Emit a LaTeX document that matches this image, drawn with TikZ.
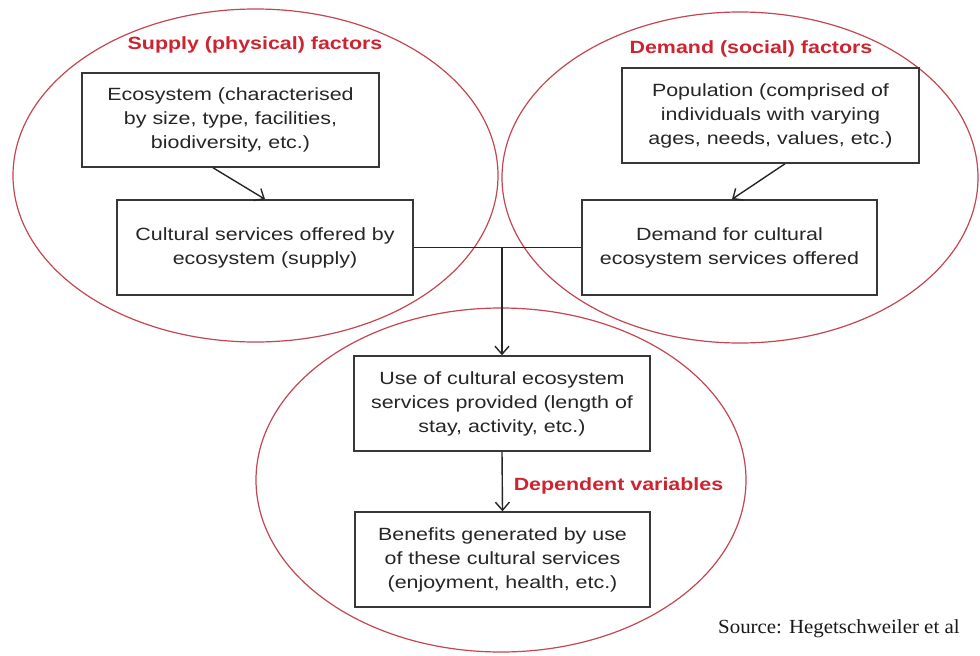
\documentclass[tikz,border=0pt]{standalone}
\usepackage{fontspec}
\usetikzlibrary{arrows.meta}
\newfontfamily\bodyfont{Liberation Sans}[FakeStretch=1.21]
\newfontfamily\labelfont{Liberation Sans}[FakeStretch=1.21]
\newfontfamily\srcfont{Liberation Serif}[FakeStretch=1.045]
\definecolor{ellred}{RGB}{196,70,82}
\definecolor{txtred}{RGB}{205,36,48}
\definecolor{boxline}{RGB}{55,55,55}
\tikzset{
  boxnode/.style={draw=boxline, line width=1.5pt, fill=white, minimum width=296pt, minimum height=95pt, inner sep=0pt, align=center, text=black!85, font=\bodyfont\fontsize{17.7}{24}\selectfont},
  redlabel/.style={anchor=base, inner sep=0pt, text=txtred, font=\labelfont\bfseries\fontsize{17.7}{24}\selectfont},
  ellipseline/.style={draw=ellred, line width=1.2pt},
  conn/.style={draw=black!85, line width=1.4pt},
  arr/.style={conn, -{Straight Barb[length=8pt,width=14pt,line width=1.4pt]}}
}
\begin{document}
\begin{tikzpicture}[x=1pt,y=-1pt]
\useasboundingbox[fill=white] (0,0) rectangle (980,656);
% ellipses
\draw[ellipseline] (255.5,175.5) ellipse [x radius=242.5pt, y radius=166.5pt];
\draw[ellipseline] (740,177.5) ellipse [x radius=238pt, y radius=165.5pt];
\draw[ellipseline] (501,480) ellipse [x radius=245pt, y radius=172pt];
% boxes
\node[boxnode, minimum width=297pt, minimum height=94pt] (eco) at (230.5,120) {Ecosystem (characterised\\by size, type, facilities,\\biodiversity, etc.)};
\node[boxnode] (cult) at (265,247.5) {Cultural services offered by\\ecosystem (supply)};
\node[boxnode, minimum width=297pt] (pop) at (770.5,115.5) {Population (comprised of\\individuals with varying\\ages, needs, values, etc.)};
\node[boxnode, minimum width=295pt] (dem) at (729.5,247.5) {Demand for cultural\\ecosystem services offered};
\node[boxnode] (use) at (502,403.5) {Use of cultural ecosystem\\services provided (length of\\stay, activity, etc.)};
\node[boxnode, minimum width=295pt] (ben) at (502.5,559.5) {Benefits generated by use\\of these cultural services\\(enjoyment, health, etc.)};
% labels
\node[redlabel] (lsup) at (255,49) {Supply (physical) factors};
\node[redlabel] (ldem) at (751,53) {Demand (social) factors};
\node[redlabel] (ldep) at (618.5,490) {Dependent variables};
\node[anchor=base west, inner sep=0pt, text=black!90, font=\srcfont\fontsize{20}{24}\selectfont] (src) at (718,633) {Source: Hegetschweiler et al};
% connectors
\draw[arr] ([xshift=-17.5pt]eco.south) -- (cult.north);
\draw[arr] ([xshift=14.5pt]pop.south) -- ([xshift=2.5pt]dem.north);
\draw[conn] (cult.east) -- (dem.west);
\coordinate (junc) at (cult.east -| use.north);
\draw[arr] (junc) -- (use.north);
\draw[arr] (use.south) -- (ben.north);
\end{tikzpicture}
\end{document}
